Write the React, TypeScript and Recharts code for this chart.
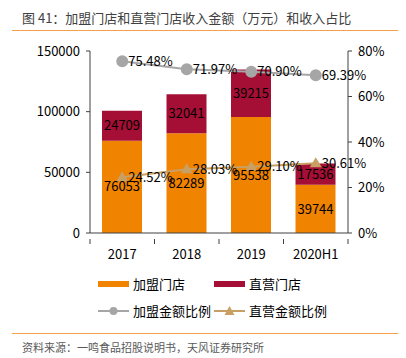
import React from 'react';
import { ComposedChart, Bar, Line, XAxis, YAxis, LabelList } from 'recharts';

const years = ['2017', '2018', '2019', '2020H1'];
const franchiseRevenue = [76053, 82289, 95538, 39744];
const directRevenue = [24709, 32041, 39215, 17536];
const franchiseShare = [75.48, 71.97, 70.9, 69.39];
const directShare = [24.52, 28.03, 29.1, 30.61];
const leftTicks = [0, 50000, 100000, 150000];
const rightTicks = [0, 20, 40, 60, 80];

const ORANGE = '#F08300';
const CRIMSON = '#A50F35';
const GREY = '#A6A6A6';
const TAN = '#C9A063';
const AXIS = '#404040';
const FONT = '"Noto Sans CJK SC", "Noto Sans", sans-serif';

const data = years.map((year, i) => ({
  year,
  franchise: franchiseRevenue[i],
  direct: directRevenue[i],
  franchisePct: franchiseShare[i],
  directPct: directShare[i],
}));

const pct = (v: any) => `${Number(v).toFixed(2)}%`;

const Triangle = (props: any) => {
  const { cx, cy } = props;
  if (cx == null || cy == null) return null;
  return <polygon points={`${cx},${cy - 6} ${cx - 6},${cy + 4} ${cx + 6},${cy + 4}`} fill={TAN} />;
};

const XTick = (props: any) => {
  const { x, y, payload, index } = props;
  const off = payload.offset || 0;
  return (
    <g>
      <line x1={x - off} x2={x - off} y1={y - 2} y2={y + 3} stroke={AXIS} />
      {index === years.length - 1 && (
        <line x1={x + off} x2={x + off} y1={y - 2} y2={y + 3} stroke={AXIS} />
      )}
      <text x={x} y={y + 18} textAnchor="middle" fontSize={13} fill="#000" fontFamily={FONT}>
        {payload.value}
      </text>
    </g>
  );
};

const legendText: React.CSSProperties = { fontSize: 13, color: '#000', marginLeft: 4 };

export default function App() {
  return (
    <div style={{ position: 'absolute', left: 0, top: 0, width: 406, height: 358, background: '#fff', fontFamily: FONT }}>
      <div style={{ position: 'absolute', left: 22, top: 8, fontSize: 13, color: '#404040', whiteSpace: 'nowrap' }}>
        图 41：加盟门店和直营门店收入金额（万元）和收入占比
      </div>
      <div style={{ position: 'absolute', left: 12, top: 30, width: 386, height: 1, background: '#F5A04C' }} />
      <div style={{ position: 'absolute', left: 0, top: 0 }}>
        <ComposedChart width={406} height={263} data={data} margin={{ top: 51, right: 0, left: 0, bottom: 0 }} barGap={0}>
          <XAxis
            dataKey="year"
            height={30}
            stroke={AXIS}
            tickLine={false}
            tick={<XTick />}
            interval={0}
          />
          <YAxis
            yAxisId="left"
            width={90}
            domain={[0, 150000]}
            ticks={leftTicks}
            stroke={AXIS}
            tickSize={4}
            tickMargin={6}
            tick={{ fontSize: 13, fill: '#000', fontFamily: FONT }}
          />
          <YAxis
            yAxisId="right"
            orientation="right"
            width={58}
            domain={[0, 80]}
            ticks={rightTicks}
            stroke={AXIS}
            tickSize={4}
            tickMargin={6}
            tickFormatter={(v) => `${v}%`}
            tick={{ fontSize: 13, fill: '#000', fontFamily: FONT }}
          />
          <Bar yAxisId="left" dataKey="franchise" stackId="a" fill={ORANGE} barSize={40} isAnimationActive={false}>
            <LabelList dataKey="franchise" position="center" fontSize={13} fill="#000" fontFamily={FONT} />
          </Bar>
          <Bar yAxisId="left" dataKey="direct" stackId="a" fill={CRIMSON} barSize={40} isAnimationActive={false}>
            <LabelList dataKey="direct" position="center" fontSize={13} fill="#000" fontFamily={FONT} />
          </Bar>
          <Line
            yAxisId="right"
            dataKey="franchisePct"
            stroke={GREY}
            strokeWidth={2}
            dot={{ r: 5, fill: GREY, stroke: GREY }}
            isAnimationActive={false}
          >
            <LabelList dataKey="franchisePct" position="right" offset={6} formatter={pct} fontSize={13} fill="#000" fontFamily={FONT} />
          </Line>
          <Line
            yAxisId="right"
            dataKey="directPct"
            stroke={TAN}
            strokeWidth={2}
            dot={<Triangle />}
            isAnimationActive={false}
          >
            <LabelList dataKey="directPct" position="right" offset={6} formatter={pct} fontSize={13} fill="#000" fontFamily={FONT} />
          </Line>
        </ComposedChart>
      </div>
      <div style={{ position: 'absolute', left: 98, top: 274, display: 'flex', alignItems: 'center' }}>
        <svg width={31} height={8}><rect x={0} y={1} width={31} height={6} fill={ORANGE} /></svg>
        <span style={legendText}>加盟门店</span>
      </div>
      <div style={{ position: 'absolute', left: 214, top: 274, display: 'flex', alignItems: 'center' }}>
        <svg width={31} height={8}><rect x={0} y={1} width={31} height={6} fill={CRIMSON} /></svg>
        <span style={legendText}>直营门店</span>
      </div>
      <div style={{ position: 'absolute', left: 98, top: 301, display: 'flex', alignItems: 'center' }}>
        <svg width={31} height={10}>
          <line x1={0} x2={31} y1={5} y2={5} stroke={GREY} strokeWidth={2} />
          <circle cx={15.5} cy={5} r={4} fill={GREY} />
        </svg>
        <span style={legendText}>加盟金额比例</span>
      </div>
      <div style={{ position: 'absolute', left: 214, top: 301, display: 'flex', alignItems: 'center' }}>
        <svg width={31} height={10}>
          <line x1={0} x2={31} y1={5} y2={5} stroke={TAN} strokeWidth={2} />
          <polygon points="15.5,0 10.5,9 20.5,9" fill={TAN} />
        </svg>
        <span style={legendText}>直营金额比例</span>
      </div>
      <div style={{ position: 'absolute', left: 12, top: 333, width: 386, height: 1, background: '#F5A04C' }} />
      <div style={{ position: 'absolute', left: 22, top: 339, fontSize: 11, color: '#595959', whiteSpace: 'nowrap' }}>
        资料来源：一鸣食品招股说明书，天风证券研究所
      </div>
    </div>
  );
}
